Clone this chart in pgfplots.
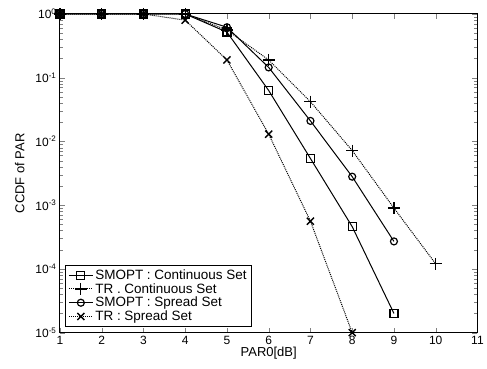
\documentclass[border=0pt]{standalone}
\usepackage{fontspec}
\setmainfont{Liberation Sans}
\usepackage{pgfplots}
\pgfplotsset{compat=1.18}
\begin{document}
\begin{tikzpicture}
\begin{axis}[
  scale only axis, width=418pt, height=319pt,
  ymode=log, xmin=1, xmax=11, ymin=1e-5, ymax=1,
  xtick={1,2,...,11},
  ytick={1e-5,1e-4,1e-3,1e-2,1e-1,1},
  yticklabels={10\textsuperscript{-5},10\textsuperscript{-4},10\textsuperscript{-3},10\textsuperscript{-2},10\textsuperscript{-1},10\textsuperscript{0}},
  xticklabel style={/pgf/number format/assume math mode=true},
  tick label style={font=\fontsize{12}{14}\selectfont},
  tick align=inside, tick pos=both,
  major tick length=5pt, minor tick length=3pt,
  xlabel={PAR0[dB]}, ylabel={CCDF of PAR},
  label style={font=\fontsize{13}{15}\selectfont},
  xlabel style={yshift=4pt}, ylabel style={yshift=4pt},
  axis line style={line width=1pt},
  legend style={at={(axis cs:1,1e-5)}, anchor=south west, xshift=5pt, yshift=6pt,
    font=\fontsize{13.5}{15.7}\selectfont, draw=black, line width=1pt,
    inner xsep=3pt, inner ysep=2pt, row sep=-1.5pt},
  legend cell align=left,
  legend image code/.code={\draw[mark repeat=2,mark phase=2,#1] plot coordinates {(0cm,0cm) (0.42cm,0cm) (0.84cm,0cm)};},
  legend image post style={line width=1pt},
]
\addplot[black, line width=1pt, mark=square, mark size=4pt, mark options={solid, line width=1.2pt}]
  coordinates {(1,1) (2,1) (3,1) (4,1) (5,0.52) (6,0.063) (7,0.0054) (8,0.00046) (9,0.00002)};
\addlegendentry{SMOPT : Continuous Set}
\addplot[black, line width=1pt, densely dotted, mark=+, mark size=6pt, mark options={solid, line width=1.2pt}]
  coordinates {(1,1) (2,1) (3,1) (4,1) (5,0.56) (6,0.19) (7,0.042) (8,0.0072) (9,0.0009) (10,0.00012)};
\addlegendentry{TR . Continuous Set}
\addplot[black, line width=1pt, mark=o, mark size=3.5pt, mark options={solid, line width=1.2pt}]
  coordinates {(1,1) (2,1) (3,1) (4,1) (5,0.62) (6,0.145) (7,0.021) (8,0.0028) (9,0.00027)};
\addlegendentry{SMOPT : Spread Set}
\addplot[black, line width=1pt, densely dotted, mark=x, mark size=5pt, mark options={solid, line width=1.4pt}]
  coordinates {(1,1) (2,1) (3,1) (4,0.8) (5,0.19) (6,0.013) (7,0.00056) (8,0.00001)};
\addlegendentry{TR : Spread Set}
\end{axis}
\path (current axis.south west) ++(-60pt,-36pt) rectangle ([xshift=9pt,yshift=14pt]current axis.north east);
\end{tikzpicture}
\end{document}
